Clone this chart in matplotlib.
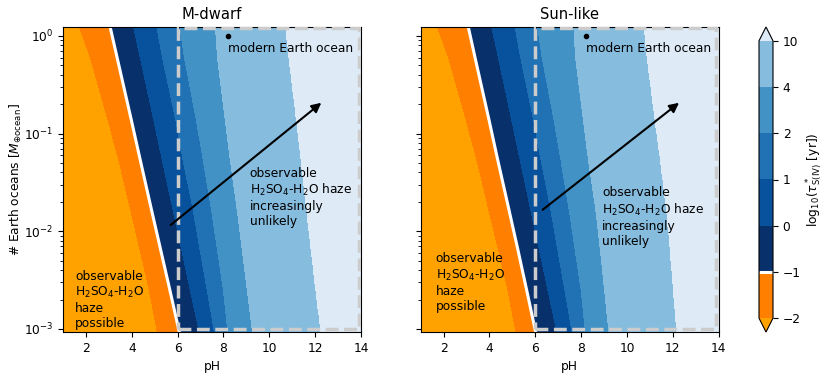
import numpy as np
import matplotlib
matplotlib.use("Agg")
from matplotlib import pyplot as plt
from matplotlib.colors import ListedColormap, BoundaryNorm
from matplotlib.patches import Rectangle

plt.rcParams['font.size'] = 8.8

# contour levels of log10(tau*_S(IV) [yr])
levels = [-2, -1, 0, 1, 2, 4, 10]

# log10(# Earth oceans) of the rows where boundaries were read
log_oceans = [0.1, -0.22, -0.86, -1.27, -1.78, -2.19, -2.6, -3.05]

# pH of each level boundary along those rows (one list per level)
mdwarf_bounds = [
    [1.70, 2.20, 2.97, 3.44, 3.96, 4.37, 4.77, 5.14],    # -2
    [3.05, 3.36, 3.98, 4.37, 4.86, 5.26, 5.66, 6.09],    # -1
    [4.07, 4.37, 4.96, 5.33, 5.80, 6.18, 6.55, 6.97],    # 0
    [5.09, 5.34, 5.92, 6.24, 6.68, 6.98, 7.29, 7.62],    # 1
    [6.10, 6.30, 6.82, 7.12, 7.48, 7.74, 8.00, 8.20],    # 2
    [7.65, 7.74, 8.08, 8.30, 8.60, 8.82, 9.04, 9.28],    # 4
    [10.71, 10.85, 11.18, 11.38, 11.62, 11.82, 12.02, 12.26],  # 10
]
sunlike_bounds = [
    [1.72, 2.22, 2.99, 3.46, 3.98, 4.40, 4.81, 5.18],
    [3.07, 3.37, 3.98, 4.36, 4.85, 5.24, 5.62, 6.03],
    [4.09, 4.39, 4.97, 5.34, 5.80, 6.18, 6.55, 6.96],
    [5.11, 5.36, 5.93, 6.25, 6.68, 6.98, 7.29, 7.62],
    [6.10, 6.30, 6.82, 7.12, 7.48, 7.74, 8.00, 8.20],
    [7.68, 7.76, 8.10, 8.32, 8.64, 8.84, 9.02, 9.22],
    [10.74, 10.87, 11.22, 11.45, 11.72, 11.88, 12.02, 12.17],
]

colors = ['#ff8000', '#08306b', '#08519c', '#2171b5', '#4292c6', '#86bcde']
under_color = '#ffa200'
over_color = '#deebf7'

modern_ph = 8.2
modern_oceans = 1.0


def make_field(bounds):
    ly = np.linspace(-3.1, 0.15, 300)
    ph = np.linspace(1, 14, 500)
    rows = log_oceans[::-1]
    z = np.empty((len(ly), len(ph)))
    for i, y in enumerate(ly):
        b = [np.interp(y, rows, bb[::-1]) for bb in bounds]
        z[i] = np.interp(ph, [0] + b + [15], [-3] + levels + [11])
    return ph, 10**ly, z


cmap = ListedColormap(colors)
cmap.set_under(under_color)
cmap.set_over(over_color)
norm = BoundaryNorm(levels, cmap.N)

fig = plt.figure(figsize=(8.3, 3.78), dpi=100)
ax1 = fig.add_axes([63/830, 46/378, 298/830, 305/378])
ax2 = fig.add_axes([420.7/830, 46/378, 298/830, 305/378], sharey=ax1)
cax = fig.add_axes([759/830, 46/378, 14/830, 305/378])

panels = [
    (ax1, mdwarf_bounds, 'M-dwarf', (5.7, 0.0116), (9.15, 0.046), (1.52, 0.0040)),
    (ax2, sunlike_bounds, 'Sun-like', (6.32, 0.0166), (8.92, 0.0288), (1.66, 0.0061)),
]

for ax, bounds, title, tail, txt_hi, txt_lo in panels:
    x, y, z = make_field(bounds)
    cf = ax.contourf(x, y, z, levels=levels, cmap=cmap, norm=norm, extend='both')
    cl = ax.contour(x, y, z, levels=[-1], colors='white', linewidths=2.2,
                    linestyles='solid')
    ax.set_yscale('log')
    ax.set_xlim(1, 14)
    ax.set_ylim(9.3e-4, 1.236)
    ax.set_xticks([2, 4, 6, 8, 10, 12, 14])
    ax.set_xlabel('pH')
    ax.set_title(title, fontsize=10.6)

    ax.add_patch(Rectangle((6, 1e-3), 7.9, 1.2 - 1e-3, fill=False,
                           ls='--', lw=2.5, ec='#cccccc', zorder=3))

    ax.plot(modern_ph, modern_oceans, 'k.', ms=6, zorder=4)
    ax.text(modern_ph, 0.86, 'modern Earth ocean', va='top', ha='left', zorder=4)

    ax.annotate('', xy=(12.27, 0.207), xytext=tail,
                arrowprops=dict(arrowstyle='-|>', color='k', lw=1.5,
                                mutation_scale=14, shrinkA=0, shrinkB=0),
                zorder=4)
    ax.text(txt_hi[0], txt_hi[1],
            'observable\nH$_2$SO$_4$-H$_2$O haze\nincreasingly\nunlikely',
            va='top', ha='left', zorder=4)
    ax.text(txt_lo[0], txt_lo[1],
            'observable\nH$_2$SO$_4$-H$_2$O\nhaze\npossible',
            va='top', ha='left', zorder=4)

ax1.set_ylabel(r'# Earth oceans [$M_{\oplus\mathrm{ocean}}$]', labelpad=0)
ax2.tick_params(labelleft=False)

cbar = fig.colorbar(cf, cax=cax, ticks=levels)
cbar.add_lines(cl)
cbar.set_label(r'log$_{10}$($\tau^*_{\mathrm{S(IV)}}$ [yr])', labelpad=2)

fig.savefig('out.png', dpi=100)
